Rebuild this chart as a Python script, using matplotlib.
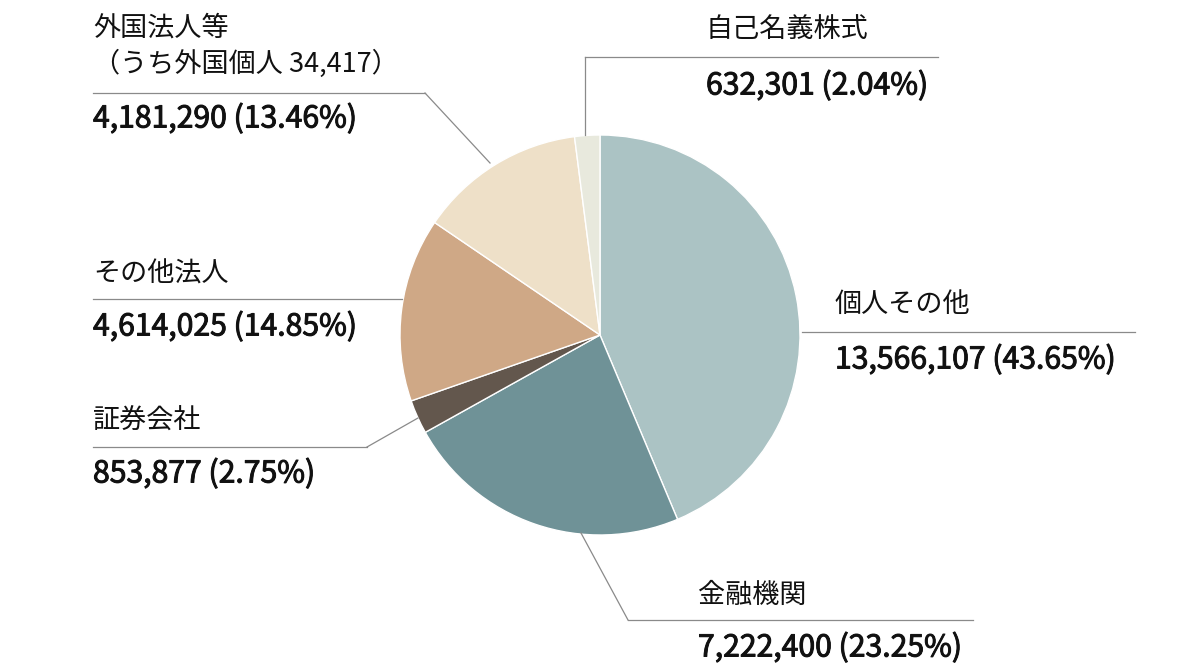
import numpy as np
import matplotlib.pyplot as plt
import matplotlib.patheffects as pe

plt.rcParams['font.family'] = ['Noto Sans CJK JP', 'DejaVu Sans']

# =============================
# Data
# =============================

labels = ["個人その他", "金融機関", "証券会社", "その他法人", "外国法人等\n（うち外国個人 34,417）", "自己名義株式"]
shares = [13566107, 7222400, 853877, 4614025, 4181290, 632301]
percents = [43.65, 23.25, 2.75, 14.85, 13.46, 2.04]
colors = ["#abc3c4", "#6f9297", "#63574d", "#cfa886", "#eee0c8", "#e8e9dd"]

# label layout in pixel space (y measured from top): title x, title y, rule y,
# rule start x, rule end x, value y, leader end point (or None)
layout = [
    (835, 304, 332, 802, 1135, 360, None),
    (698, 595, 620, 628, 973, 648, (581, 533)),
    (93, 421, 447, 93, 367, 474, (418, 418)),
    (93, 274, 299, 93, 402, 327, None),
    (93, 46, 93, 93, 425, 119, (490, 163)),
    (706, 29, 57, 585, 938, 86, (585, 135)),
]

W, H = 1200, 670

fig = plt.figure(figsize=(W / 100, H / 100), dpi=100)
ax = fig.add_axes([0, 0, 1, 1])

ax.pie(shares, colors=colors, startangle=90, counterclock=False,
       center=(600, H - 335), radius=200,
       wedgeprops=dict(edgecolor="white", linewidth=1.0))

line_kw = dict(color="#8a8a8a", linewidth=0.9)
semi_bold = [pe.withStroke(linewidth=0.7, foreground="#111111")]

for lab, val, pct, lay in zip(labels, shares, percents, layout):
    tx, ty, ry, rx0, rx1, vy, leader = lay
    ax.text(tx, H - ty, lab, fontsize=19.5, color="#111111",
            ha="left", va="center", linespacing=1.38)
    ax.plot([rx0, rx1], [H - ry, H - ry], **line_kw)
    if leader is not None:
        lx = rx1 if rx0 < 300 else rx0
        ax.plot([lx, leader[0]], [H - ry, H - leader[1]], **line_kw)
    ax.text(tx, H - vy, f"{val:,} ({pct:.2f}%)", fontsize=21.7,
            color="#111111", ha="left", va="center", path_effects=semi_bold)

ax.set_xlim(0, W)
ax.set_ylim(0, H)
ax.set_aspect("equal")
ax.axis("off")

fig.savefig("out.png", dpi=100, facecolor="white")
